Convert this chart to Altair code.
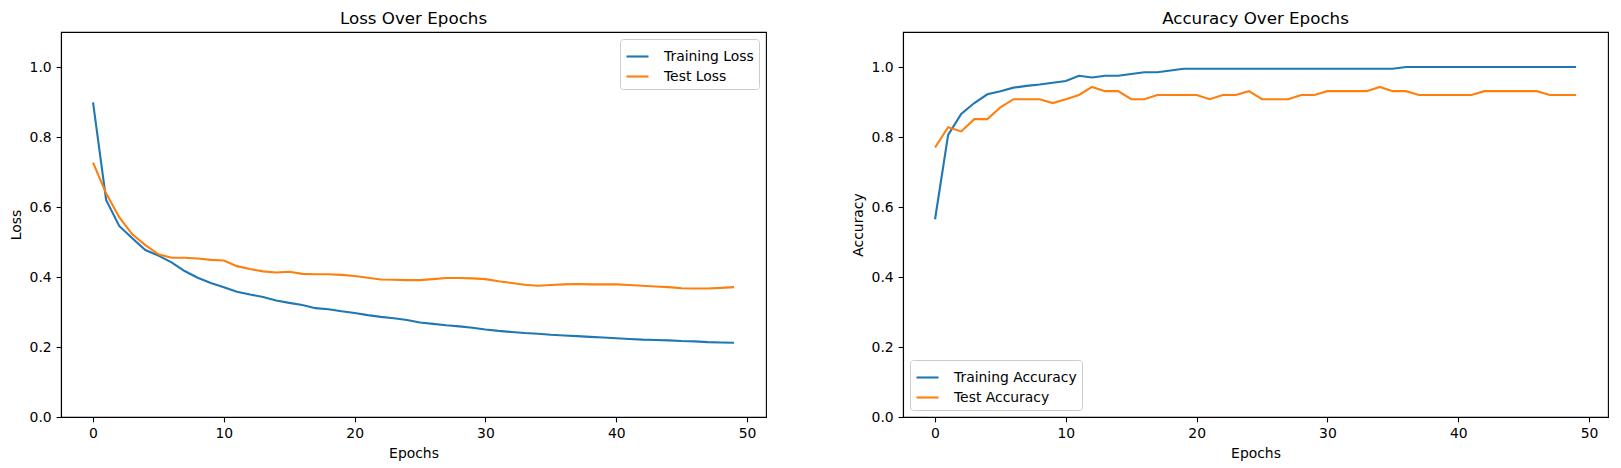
import altair as alt
import pandas as pd

# values
epochs = list(range(50))

train_loss = [0.899, 0.620, 0.546, 0.511, 0.477, 0.461, 0.442, 0.417, 0.398, 0.383,
              0.371, 0.358, 0.350, 0.343, 0.333, 0.326, 0.320, 0.311, 0.308, 0.302,
              0.297, 0.291, 0.286, 0.282, 0.277, 0.270, 0.266, 0.262, 0.259, 0.255,
              0.250, 0.246, 0.243, 0.240, 0.238, 0.235, 0.233, 0.231, 0.229, 0.227,
              0.225, 0.223, 0.221, 0.220, 0.219, 0.217, 0.216, 0.214, 0.213, 0.212]
test_loss = [0.727, 0.639, 0.571, 0.522, 0.491, 0.465, 0.455, 0.455, 0.453, 0.449,
             0.447, 0.431, 0.423, 0.416, 0.413, 0.415, 0.409, 0.408, 0.408, 0.406,
             0.403, 0.398, 0.393, 0.392, 0.391, 0.391, 0.394, 0.397, 0.397, 0.396,
             0.394, 0.388, 0.383, 0.378, 0.375, 0.377, 0.379, 0.380, 0.379, 0.379,
             0.379, 0.377, 0.375, 0.373, 0.371, 0.368, 0.367, 0.367, 0.369, 0.371]
train_acc = [0.565, 0.806, 0.866, 0.897, 0.922, 0.931, 0.941, 0.946, 0.950, 0.955,
             0.960, 0.975, 0.970, 0.975, 0.975, 0.980, 0.985, 0.985, 0.990, 0.995,
             0.995, 0.995, 0.995, 0.995, 0.995, 0.995, 0.995, 0.995, 0.995, 0.995,
             0.995, 0.995, 0.995, 0.995, 0.995, 0.995, 1.000, 1.000, 1.000, 1.000,
             1.000, 1.000, 1.000, 1.000, 1.000, 1.000, 1.000, 1.000, 1.000, 1.000]
test_acc = [0.770, 0.828, 0.816, 0.851, 0.851, 0.885, 0.908, 0.908, 0.908, 0.897,
            0.908, 0.920, 0.943, 0.931, 0.931, 0.908, 0.908, 0.920, 0.920, 0.920,
            0.920, 0.908, 0.920, 0.920, 0.931, 0.908, 0.908, 0.908, 0.920, 0.920,
            0.931, 0.931, 0.931, 0.931, 0.943, 0.931, 0.931, 0.920, 0.920, 0.920,
            0.920, 0.920, 0.931, 0.931, 0.931, 0.931, 0.931, 0.920, 0.920, 0.920]

loss_names = ["Training Loss", "Test Loss"]
acc_names = ["Training Accuracy", "Test Accuracy"]

BLUE = "#1f77b4"
ORANGE = "#ff7f0e"
FONT = "DejaVu Sans"


def long_frame(train, test, names):
    return pd.DataFrame({
        "epoch": epochs + epochs,
        "value": train + test,
        "series": [names[0]] * len(epochs) + [names[1]] * len(epochs),
    })


def panel(df, names, title, ytitle, legend_orient):
    x = alt.X("epoch:Q", title="Epochs",
              scale=alt.Scale(domain=[-2.45, 51.45], nice=False, zero=False),
              axis=alt.Axis(values=[0, 10, 20, 30, 40, 50], format="d"))
    y = alt.Y("value:Q", title=ytitle,
              scale=alt.Scale(domain=[0, 1.1], nice=False, zero=False),
              axis=alt.Axis(values=[0, 0.2, 0.4, 0.6, 0.8, 1.0], format=".1f"))
    color = alt.Color("series:N", sort=names,
                      scale=alt.Scale(domain=names, range=[BLUE, ORANGE]),
                      legend=alt.Legend(title=None, orient=legend_orient, offset=7))
    return alt.Chart(df).mark_line(strokeWidth=2.1).encode(
        x=x, y=y, color=color
    ).properties(width=705, height=385, title=title)


left = panel(long_frame(train_loss, test_loss, loss_names), loss_names,
             "Loss Over Epochs", "Loss", "top-right")
right = panel(long_frame(train_acc, test_acc, acc_names), acc_names,
              "Accuracy Over Epochs", "Accuracy", "bottom-left")

chart = alt.hconcat(left, right, spacing=83).resolve_scale(
    color="independent"
).properties(
    padding={"left": 0, "top": 2, "right": 0, "bottom": 0}
).configure_view(
    stroke="black", strokeWidth=1.1
).configure_axis(
    grid=False, domainColor="black", domainWidth=1.1,
    tickColor="black", tickWidth=1.1, tickSize=4.9,
    labelColor="black", labelFont=FONT, labelFontSize=13.9, labelPadding=4.9,
    titleColor="black", titleFont=FONT, titleFontSize=13.9,
    titleFontWeight="normal", titlePadding=6
).configure_title(
    font=FONT, fontSize=16.7, fontWeight="normal", color="black",
    anchor="middle", baseline="bottom", offset=4
).configure_legend(
    symbolType="stroke", symbolSize=484, symbolStrokeWidth=2.1,
    labelFont=FONT, labelFontSize=13.9, labelColor="black", labelOffset=14,
    rowPadding=0, padding=5, fillColor="white", strokeColor="#cccccc",
    cornerRadius=3
)

chart.save("out.html", embed_options={"renderer": "svg", "actions": False})
